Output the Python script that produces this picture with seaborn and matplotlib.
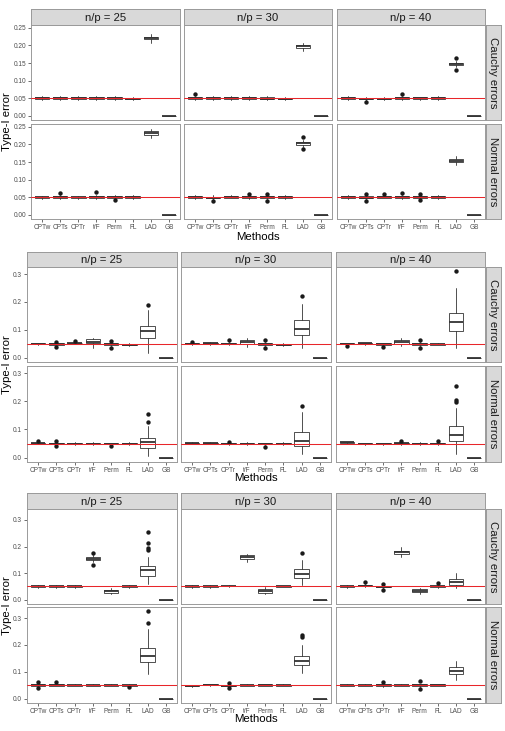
import matplotlib
matplotlib.use("Agg")
import matplotlib.pyplot as plt
import seaborn as sns
import numpy as np
import pandas as pd

# ---------------- data ----------------
METHODS = ["CPTw", "CPTs", "CPTr", "t/F", "Perm", "FL", "LAD", "GB"]
NP_LABELS = ["n/p = 25", "n/p = 30", "n/p = 40"]
ERROR_LABELS = ["Cauchy errors", "Normal errors"]
NOMINAL = 0.05

# Panel order in every block: Cauchy 25, 30, 40, Normal 25, 30, 40.
# Each row lists the eight methods in METHODS order.
# ---- Block 1 ----
B1_LO = [
    [0.045, 0.045, 0.046, 0.045, 0.044, 0.044, 0.208, 0.0],
    [0.045, 0.045, 0.046, 0.046, 0.044, 0.044, 0.184, 0.0],
    [0.045, 0.043, 0.045, 0.046, 0.045, 0.045, 0.138, 0.0],
    [0.045, 0.045, 0.046, 0.045, 0.046, 0.046, 0.218, 0.0],
    [0.046, 0.043, 0.047, 0.045, 0.045, 0.046, 0.192, 0.0],
    [0.046, 0.044, 0.047, 0.045, 0.045, 0.046, 0.142, 0.0],
]
B1_Q1 = [
    [0.048, 0.048, 0.049, 0.048, 0.047, 0.047, 0.218, 0.0],
    [0.048, 0.048, 0.049, 0.049, 0.047, 0.047, 0.192, 0.0],
    [0.048, 0.047, 0.047, 0.049, 0.048, 0.048, 0.143, 0.0],
    [0.048, 0.048, 0.048, 0.048, 0.048, 0.049, 0.226, 0.0],
    [0.049, 0.047, 0.049, 0.048, 0.048, 0.049, 0.199, 0.0],
    [0.049, 0.047, 0.049, 0.048, 0.048, 0.049, 0.150, 0.0],
]
B1_MED = [
    [0.050, 0.050, 0.051, 0.050, 0.050, 0.049, 0.2215, 0.0],
    [0.050, 0.050, 0.051, 0.051, 0.049, 0.049, 0.197, 0.0],
    [0.050, 0.049, 0.049, 0.051, 0.050, 0.050, 0.147, 0.0],
    [0.050, 0.050, 0.050, 0.050, 0.051, 0.051, 0.2315, 0.0],
    [0.051, 0.049, 0.051, 0.050, 0.050, 0.050, 0.203, 0.0],
    [0.051, 0.049, 0.051, 0.050, 0.050, 0.051, 0.1535, 0.0],
]
B1_Q3 = [
    [0.052, 0.053, 0.053, 0.052, 0.052, 0.050, 0.225, 0.0],
    [0.052, 0.052, 0.053, 0.053, 0.052, 0.051, 0.2005, 0.0],
    [0.052, 0.051, 0.051, 0.053, 0.052, 0.052, 0.150, 0.0],
    [0.051, 0.053, 0.051, 0.053, 0.053, 0.053, 0.238, 0.0],
    [0.053, 0.051, 0.053, 0.052, 0.053, 0.052, 0.207, 0.0],
    [0.053, 0.052, 0.053, 0.053, 0.053, 0.052, 0.1575, 0.0],
]
B1_HI = [
    [0.055, 0.056, 0.056, 0.055, 0.056, 0.053, 0.233, 0.0],
    [0.055, 0.055, 0.055, 0.056, 0.056, 0.054, 0.208, 0.0],
    [0.055, 0.054, 0.054, 0.057, 0.054, 0.055, 0.155, 0.0],
    [0.054, 0.056, 0.054, 0.057, 0.056, 0.056, 0.245, 0.0],
    [0.057, 0.055, 0.055, 0.055, 0.056, 0.055, 0.2125, 0.0],
    [0.056, 0.055, 0.056, 0.056, 0.056, 0.055, 0.166, 0.0],
]
# outliers: (panel, method index, value)
B1_OUT_PANEL = [1, 2, 2, 2, 2, 3, 3, 3, 4, 4, 4, 4, 4, 4, 5, 5, 5, 5, 5, 5]
B1_OUT_METHOD = [0, 1, 3, 6, 6, 1, 3, 4, 1, 3, 4, 4, 6, 6, 1, 1, 2, 3, 4, 4]
B1_OUT_VALUE = [0.061, 0.038, 0.062, 0.163, 0.1315, 0.062, 0.064, 0.041,
                0.038, 0.060, 0.058, 0.040, 0.221, 0.186,
                0.060, 0.038, 0.060, 0.0625, 0.060, 0.041]

# ---- Block 2 ----
B2_LO = [
    [0.047, 0.044, 0.048, 0.036, 0.042, 0.042, 0.016, 0.0],
    [0.046, 0.046, 0.045, 0.040, 0.042, 0.042, 0.033, 0.0],
    [0.045, 0.047, 0.042, 0.042, 0.042, 0.044, 0.033, 0.0],
    [0.047, 0.044, 0.046, 0.046, 0.044, 0.046, 0.006, 0.0],
    [0.047, 0.047, 0.045, 0.046, 0.044, 0.046, 0.012, 0.0],
    [0.050, 0.046, 0.046, 0.046, 0.046, 0.045, 0.012, 0.0],
]
B2_Q1 = [
    [0.049, 0.047, 0.051, 0.052, 0.047, 0.045, 0.071, 0.0],
    [0.049, 0.049, 0.048, 0.050, 0.047, 0.045, 0.082, 0.0],
    [0.048, 0.049, 0.047, 0.050, 0.047, 0.046, 0.095, 0.0],
    [0.049, 0.047, 0.048, 0.048, 0.047, 0.048, 0.035, 0.0],
    [0.049, 0.049, 0.048, 0.048, 0.047, 0.048, 0.041, 0.0],
    [0.052, 0.048, 0.048, 0.049, 0.048, 0.048, 0.059, 0.0],
]
B2_MED = [
    [0.050, 0.049, 0.052, 0.056, 0.050, 0.047, 0.095, 0.0],
    [0.050, 0.051, 0.050, 0.055, 0.050, 0.047, 0.104, 0.0],
    [0.050, 0.051, 0.049, 0.055, 0.050, 0.048, 0.128, 0.0],
    [0.051, 0.049, 0.050, 0.050, 0.049, 0.050, 0.055, 0.0],
    [0.051, 0.051, 0.050, 0.050, 0.049, 0.050, 0.058, 0.0],
    [0.054, 0.050, 0.050, 0.051, 0.050, 0.050, 0.082, 0.0],
]
B2_Q3 = [
    [0.051, 0.051, 0.054, 0.066, 0.052, 0.049, 0.113, 0.0],
    [0.052, 0.053, 0.053, 0.065, 0.052, 0.049, 0.137, 0.0],
    [0.051, 0.052, 0.051, 0.065, 0.052, 0.050, 0.160, 0.0],
    [0.053, 0.052, 0.052, 0.052, 0.051, 0.052, 0.070, 0.0],
    [0.053, 0.053, 0.052, 0.052, 0.051, 0.052, 0.090, 0.0],
    [0.055, 0.051, 0.051, 0.053, 0.052, 0.052, 0.112, 0.0],
]
B2_HI = [
    [0.053, 0.054, 0.056, 0.072, 0.056, 0.051, 0.171, 0.0],
    [0.054, 0.055, 0.056, 0.072, 0.056, 0.052, 0.192, 0.0],
    [0.053, 0.054, 0.054, 0.072, 0.056, 0.052, 0.251, 0.0],
    [0.055, 0.055, 0.054, 0.054, 0.053, 0.054, 0.113, 0.0],
    [0.055, 0.055, 0.054, 0.054, 0.053, 0.054, 0.161, 0.0],
    [0.057, 0.053, 0.053, 0.055, 0.054, 0.054, 0.175, 0.0],
]
B2_OUT_PANEL = [0, 0, 0, 0, 0, 0, 1, 1, 1, 1, 1, 2, 2, 2, 2, 2,
                3, 3, 3, 3, 3, 3, 4, 4, 4, 5, 5, 5, 5, 5]
B2_OUT_METHOD = [1, 1, 2, 4, 4, 6, 0, 2, 4, 4, 6, 0, 2, 4, 4, 6,
                 0, 1, 1, 4, 6, 6, 2, 4, 6, 3, 5, 6, 6, 6]
B2_OUT_VALUE = [0.058, 0.038, 0.061, 0.061, 0.035, 0.188,
                0.056, 0.062, 0.062, 0.036, 0.220,
                0.041, 0.037, 0.062, 0.036, 0.311,
                0.059, 0.059, 0.041, 0.041, 0.126, 0.154,
                0.057, 0.039, 0.183,
                0.060, 0.060, 0.198, 0.205, 0.255]

# ---- Block 3 ----
B3_LO = [
    [0.046, 0.046, 0.046, 0.140, 0.020, 0.046, 0.059, 0.0],
    [0.046, 0.045, 0.048, 0.143, 0.021, 0.047, 0.055, 0.0],
    [0.046, 0.048, 0.044, 0.159, 0.023, 0.046, 0.044, 0.0],
    [0.044, 0.046, 0.046, 0.046, 0.046, 0.045, 0.093, 0.0],
    [0.045, 0.048, 0.044, 0.046, 0.047, 0.046, 0.094, 0.0],
    [0.046, 0.046, 0.045, 0.046, 0.044, 0.047, 0.069, 0.0],
]
B3_Q1 = [
    [0.049, 0.049, 0.049, 0.149, 0.026, 0.049, 0.090, 0.0],
    [0.049, 0.048, 0.051, 0.154, 0.026, 0.049, 0.080, 0.0],
    [0.049, 0.050, 0.047, 0.172, 0.028, 0.049, 0.054, 0.0],
    [0.047, 0.049, 0.048, 0.048, 0.048, 0.048, 0.137, 0.0],
    [0.047, 0.050, 0.047, 0.048, 0.049, 0.048, 0.124, 0.0],
    [0.048, 0.048, 0.048, 0.048, 0.047, 0.049, 0.090, 0.0],
]
B3_MED = [
    [0.050, 0.050, 0.050, 0.154, 0.031, 0.050, 0.110, 0.0],
    [0.050, 0.050, 0.052, 0.161, 0.033, 0.050, 0.098, 0.0],
    [0.050, 0.052, 0.049, 0.179, 0.033, 0.050, 0.066, 0.0],
    [0.050, 0.051, 0.050, 0.050, 0.050, 0.050, 0.160, 0.0],
    [0.048, 0.052, 0.049, 0.050, 0.051, 0.050, 0.140, 0.0],
    [0.050, 0.050, 0.050, 0.050, 0.050, 0.051, 0.104, 0.0],
]
B3_Q3 = [
    [0.052, 0.052, 0.052, 0.159, 0.036, 0.052, 0.128, 0.0],
    [0.052, 0.052, 0.053, 0.168, 0.040, 0.051, 0.115, 0.0],
    [0.052, 0.055, 0.051, 0.185, 0.039, 0.052, 0.078, 0.0],
    [0.053, 0.053, 0.052, 0.052, 0.052, 0.052, 0.190, 0.0],
    [0.050, 0.054, 0.052, 0.052, 0.053, 0.052, 0.158, 0.0],
    [0.052, 0.052, 0.053, 0.052, 0.053, 0.053, 0.118, 0.0],
]
B3_HI = [
    [0.054, 0.054, 0.054, 0.168, 0.043, 0.054, 0.162, 0.0],
    [0.054, 0.055, 0.055, 0.173, 0.047, 0.053, 0.148, 0.0],
    [0.054, 0.058, 0.054, 0.199, 0.045, 0.055, 0.100, 0.0],
    [0.056, 0.055, 0.054, 0.054, 0.054, 0.054, 0.258, 0.0],
    [0.052, 0.056, 0.055, 0.054, 0.055, 0.054, 0.198, 0.0],
    [0.054, 0.054, 0.056, 0.054, 0.056, 0.055, 0.139, 0.0],
]
B3_OUT_PANEL = [0, 0, 0, 0, 0, 0, 1, 2, 2, 2, 2,
                3, 3, 3, 3, 3, 3, 4, 4, 4, 4, 5, 5, 5]
B3_OUT_METHOD = [3, 3, 6, 6, 6, 6, 6, 1, 2, 2, 5,
                 0, 0, 1, 5, 6, 6, 2, 2, 6, 6, 2, 4, 4]
B3_OUT_VALUE = [0.174, 0.132, 0.188, 0.194, 0.213, 0.254, 0.177,
                0.066, 0.060, 0.036, 0.063,
                0.061, 0.039, 0.061, 0.0425, 0.281, 0.326,
                0.060, 0.039, 0.231, 0.237,
                0.061, 0.064, 0.036]

Y_TICKS_B1 = [0.00, 0.05, 0.10, 0.15, 0.20, 0.25]
Y_TICKS_B23 = [0.0, 0.1, 0.2, 0.3]

# ---------------- styling / layout ----------------
sns.set_theme(style="white")
plt.rcParams["font.family"] = ["Liberation Sans", "DejaVu Sans"]

W, H = 505, 731
fig = plt.figure(figsize=(W / 100, H / 100), dpi=100)

BORDER = "#9a9a9a"
STRIP_BG = "#d9d9d9"
BOX_EDGE = "#333333"
TICK_COL = "#4d4d4d"
RED = "#e8262a"


def ax_px(x0, y0, x1, y1):
    return fig.add_axes([x0 / W, 1 - y1 / H, (x1 - x0) / W, (y1 - y0) / H])


def draw_block(lo, q1, med, q3, hi, out_p, out_m, out_v, cols, rows, strip_y,
               ylim, yticks, yfmt, methods_y, strip_x=(486, 501)):
    outliers = pd.DataFrame({"panel": out_p, "method": out_m, "value": out_v})
    for r in range(2):
        for c in range(3):
            p = r * 3 + c
            ax = ax_px(cols[c][0], rows[r][0], cols[c][1], rows[r][1])
            stats = []
            for m in range(len(METHODS)):
                stats.append(dict(whislo=lo[p][m], q1=q1[p][m], med=med[p][m],
                                  q3=q3[p][m], whishi=hi[p][m], fliers=[]))
            ax.bxp(stats, positions=np.arange(len(METHODS)), widths=0.8,
                   patch_artist=True, showcaps=False, showfliers=False,
                   boxprops=dict(facecolor="white", edgecolor=BOX_EDGE, linewidth=0.6),
                   medianprops=dict(color=BOX_EDGE, linewidth=1.3, solid_capstyle="butt"),
                   whiskerprops=dict(color=BOX_EDGE, linewidth=0.6), manage_ticks=False)
            sub = outliers[outliers["panel"] == p]
            if len(sub):
                sns.scatterplot(x=sub["method"], y=sub["value"], ax=ax, color="#1a1a1a",
                                s=10, linewidth=0, zorder=3, legend=False)
            ax.axhline(NOMINAL, color=RED, linewidth=0.75, zorder=4)
            ax.set_xlim(-0.6, len(METHODS) - 0.4)
            ax.set_ylim(*ylim)
            ax.set_xlabel("")
            ax.set_ylabel("")
            ax.set_facecolor("white")
            for s in ax.spines.values():
                s.set_color(BORDER)
                s.set_linewidth(0.7)
            ax.set_xticks(np.arange(len(METHODS)))
            ax.set_yticks(yticks)
            ax.tick_params(axis="both", length=2, width=0.5, color=BOX_EDGE,
                           labelsize=4.7, labelcolor=TICK_COL, pad=1.5)
            if r == 1:
                ax.set_xticklabels(METHODS)
                ax.tick_params(axis="x", bottom=True)
            else:
                ax.set_xticklabels([])
                ax.tick_params(axis="x", bottom=False)
            if c == 0:
                ax.set_yticklabels([yfmt.format(v) for v in yticks])
                ax.tick_params(axis="y", left=True)
            else:
                ax.set_yticklabels([])
                ax.tick_params(axis="y", left=False)
    # top strips
    for c in range(3):
        sa = ax_px(cols[c][0], strip_y[0], cols[c][1], strip_y[1])
        sa.set_facecolor(STRIP_BG)
        sa.set_xticks([]); sa.set_yticks([])
        for s in sa.spines.values():
            s.set_color(BORDER); s.set_linewidth(0.7)
        sa.text(0.5, 0.45, NP_LABELS[c], ha="center", va="center", fontsize=8.2,
                color="#1a1a1a", transform=sa.transAxes)
    # right strips
    for r in range(2):
        sa = ax_px(strip_x[0], rows[r][0], strip_x[1], rows[r][1])
        sa.set_facecolor(STRIP_BG)
        sa.set_xticks([]); sa.set_yticks([])
        for s in sa.spines.values():
            s.set_color(BORDER); s.set_linewidth(0.7)
        sa.text(0.5, 0.5, ERROR_LABELS[r], ha="center", va="center", fontsize=8.2,
                color="#1a1a1a", rotation=-90, transform=sa.transAxes)
    # axis titles
    xc = (cols[0][0] + cols[2][1]) / 2
    fig.text(xc / W, 1 - methods_y / H, "Methods", ha="center", va="center",
             fontsize=8.2, color="black")
    yc = (rows[0][0] + rows[1][1]) / 2
    fig.text(7 / W, 1 - yc / H, "Type-I error", ha="center", va="center",
             rotation=90, fontsize=8.2, color="black")


COLS_B1 = [(31, 180), (184, 332), (337, 485)]
COLS_B23 = [(27, 177), (181, 331), (336, 485)]

draw_block(B1_LO, B1_Q1, B1_MED, B1_Q3, B1_HI, B1_OUT_PANEL, B1_OUT_METHOD, B1_OUT_VALUE,
           COLS_B1, [(25, 120), (124, 219)], (9, 25), (-0.012, 0.258),
           Y_TICKS_B1, "{:.2f}", 237)
draw_block(B2_LO, B2_Q1, B2_MED, B2_Q3, B2_HI, B2_OUT_PANEL, B2_OUT_METHOD, B2_OUT_VALUE,
           COLS_B23, [(267, 362), (366, 462)], (252, 267), (-0.0155, 0.3255),
           Y_TICKS_B23, "{:.1f}", 478)
draw_block(B3_LO, B3_Q1, B3_MED, B3_Q3, B3_HI, B3_OUT_PANEL, B3_OUT_METHOD, B3_OUT_VALUE,
           COLS_B23, [(509, 604), (607, 703)], (493, 509), (-0.016, 0.341),
           Y_TICKS_B23, "{:.1f}", 719)

fig.savefig("out.png", dpi=100, facecolor="white")
